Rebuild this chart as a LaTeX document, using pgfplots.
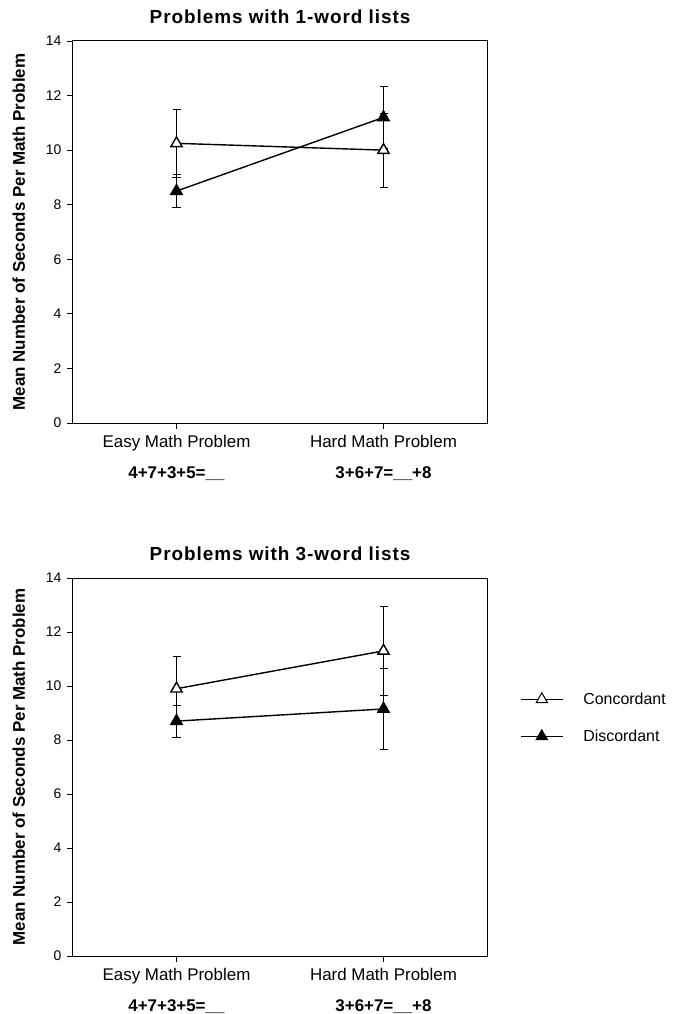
\documentclass[border=0pt]{standalone}
\usepackage{pgfplots}
\pgfplotsset{compat=1.18}
\usepackage{fontspec}
\setmainfont{Liberation Sans}
\begin{document}
\begin{tikzpicture}
\path[use as bounding box] (-73bp,-591bp) rectangle (600bp,423bp);
\pgfplotsset{panel/.style={
  scale only axis, width=414bp,
  xmin=-0.5, xmax=1.5, ymin=0, ymax=14,
  xtick={0,1},
  xticklabels={{Easy Math Problem\\\textbf{4+7+3+5=\_\_}},{Hard Math Problem\\\textbf{3+6+7=\_\_+8}}},
  ytick={0,2,...,14},
  tick align=outside, tick pos=left, major tick length=6bp,
  tick style={black, line width=0.8bp},
  axis line style={line width=1bp},
  /pgf/number format/assume math mode=true,
  yticklabel style={font=\fontsize{14}{16}\selectfont, xshift=-2bp},
  xticklabel style={align=center, font=\fontsize{17}{31}\selectfont, yshift=-3bp},
  ylabel={Mean Number of Seconds Per Math Problem},
  ylabel style={font=\fontsize{17}{19}\selectfont\bfseries},
  ylabel shift=14bp,
  title style={font=\fontsize{19}{21}\selectfont\bfseries\addfontfeature{LetterSpace=5}, yshift=8bp},
  every axis plot/.append style={line width=1.4bp, black},
  error bars/error mark options={rotate=90, mark size=4bp, line width=0.8bp},
  error bars/error bar style={line width=0.8bp},
}}
\begin{axis}[panel, at={(0bp,0bp)}, anchor=south west, height=382bp,
  title={Problems with 1-word lists}]
  \addplot[mark=triangle*, mark size=6.5bp, mark options={fill=white, solid},
    error bars/.cd, y dir=both, y explicit]
    coordinates {(0,10.25) +- (0,1.25) (1,10.0) +- (0,1.35)};
  \addplot[mark=triangle*, mark size=6.5bp, mark options={fill=black, solid},
    error bars/.cd, y dir=both, y explicit]
    coordinates {(0,8.5) +- (0,0.6) (1,11.2) +- (0,1.15)};
\end{axis}
\begin{axis}[panel, at={(0bp,-533bp)}, anchor=south west, height=378bp,
  title={Problems with 3-word lists},
  legend cell align=left,
  legend style={at={(1.08,0.63)}, anchor=west, draw=none, fill=none,
    font=\fontsize{16}{18}\selectfont, row sep=20bp, inner xsep=0pt,
    /tikz/every odd column/.append style={column sep=18bp}},
  legend image code/.code={\draw[mark repeat=2, mark phase=2, line width=1bp]
    plot coordinates {(0bp,0bp) (21bp,0bp) (42bp,0bp)};}]
  \addplot[mark=triangle*, mark size=6.5bp, mark options={fill=white, solid},
    error bars/.cd, y dir=both, y explicit]
    coordinates {(0,9.9) +- (0,1.2) (1,11.3) +- (0,1.65)};
  \addlegendentry{Concordant}
  \addplot[mark=triangle*, mark size=6.5bp, mark options={fill=black, solid},
    error bars/.cd, y dir=both, y explicit]
    coordinates {(0,8.7) +- (0,0.6) (1,9.15) +- (0,1.5)};
  \addlegendentry{Discordant}
\end{axis}
\end{tikzpicture}
\end{document}
